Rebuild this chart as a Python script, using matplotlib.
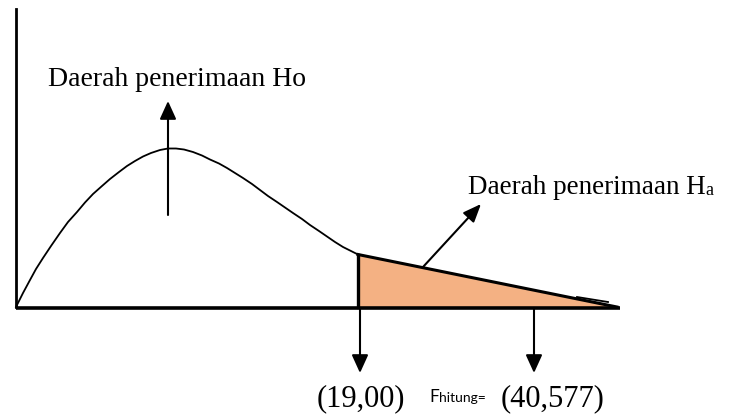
import matplotlib
matplotlib.use("Agg")
import matplotlib.pyplot as plt

# curve points (x to the right of the y axis, y above the baseline)
curve_x = [0, 7, 14, 20, 27, 35, 44, 52, 61, 69, 77, 86, 94, 103, 111, 119, 127,
           135, 144, 152, 160, 168, 177, 186, 194, 203, 211, 219, 227, 236, 244,
           252, 261, 269, 277, 286, 294, 303, 311, 319, 327, 335, 342]
curve_y = [0, 14, 27, 38, 49, 61, 74, 85, 95, 104.5, 113, 121, 128, 135, 141, 146,
           150.5, 154, 157, 158.5, 158.5, 157.5, 155, 151.5, 147.5, 143.5, 139,
           134, 129, 123, 117, 111, 105, 99.5, 94, 88, 82, 76, 70.5, 65, 60, 56,
           52.5]

# rejection region (tail) corners
tail_x = [342, 601]
tail_y = [52.5, 0]

axis_len_x = 604
axis_len_y = 298

crit_x = 344      # (19,00)
hitung_x = 518    # (40,577)
peak_x = 152

label_ho = "Daerah penerimaan Ho"
label_ha = "Daerah penerimaan H"
label_crit = "(19,00)"
label_hitung = "(40,577)"

SERIF = "Liberation Serif"


def arrow(ax, start, end, hl=1.1, hw=0.5):
    ax.annotate("", xy=end, xytext=start,
                arrowprops=dict(arrowstyle="-|>,head_length=%s,head_width=%s" % (hl, hw),
                                color="black", lw=1.5, shrinkA=0, shrinkB=0))


def main():
    fig = plt.figure(figsize=(7.37, 4.16), dpi=100)
    ax = fig.add_axes([0, 0, 1, 1])
    ax.set_xlim(-16, 721)
    ax.set_ylim(-109, 307)
    ax.axis("off")

    # shaded tail
    ax.fill([tail_x[0], tail_x[0], tail_x[1]], [0, tail_y[0], tail_y[1]],
            color="#f4b183", lw=0)
    ax.plot([tail_x[0], tail_x[0]], [0, tail_y[0]], color="black", lw=2.4)
    ax.plot(tail_x, tail_y, color="black", lw=2.2)
    ax.plot([561, 592], [10, 5], color="black", lw=1.3)

    # axes
    ax.plot([0, 0], [0, axis_len_y], color="black", lw=2)
    ax.plot([0, axis_len_x], [-1, -1], color="black", lw=2.6, solid_capstyle="butt")

    # curve
    ax.plot(curve_x, curve_y, color="black", lw=1.3, solid_joinstyle="round")

    # arrows
    arrow(ax, (peak_x, 92), (peak_x, 206))
    arrow(ax, (407, 40), (465, 103), hl=1.1, hw=0.45)
    arrow(ax, (crit_x, -1), (crit_x, -66))
    arrow(ax, (hitung_x, -1), (hitung_x, -66))

    # texts
    ax.text(32, 227, label_ho, family=SERIF, fontsize=20, va="center", ha="left")
    t = ax.text(452, 119, label_ha, family=SERIF, fontsize=19.5, va="center", ha="left")
    ax.annotate("a", xy=(1, 0), xycoords=t, xytext=(0, 1), textcoords="offset points",
                family=SERIF, fontsize=13, va="bottom", ha="left")

    ax.text(crit_x + 1, -92, label_crit, family=SERIF, fontsize=22, va="center", ha="center")
    ax.text(537, -92, label_hitung, family=SERIF, fontsize=22, va="center", ha="center")
    f = ax.text(413, -90, "F", family="Lato", fontsize=12.5, va="center", ha="left")
    ax.annotate("hitung=", xy=(1, 0), xycoords=f, xytext=(0.3, 0.5), textcoords="offset points",
                family="Lato", fontsize=10, va="bottom", ha="left")

    fig.savefig("out.png", dpi=100)


if __name__ == '__main__':
    main()
